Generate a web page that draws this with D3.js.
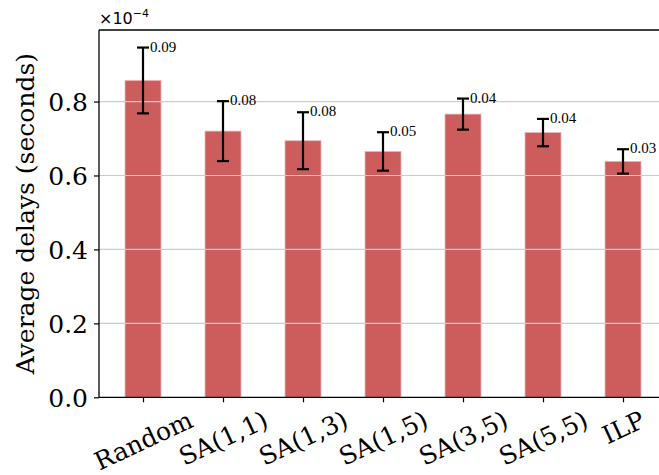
<!DOCTYPE html>
<html>
<head>
<meta charset="utf-8">
<script src="https://cdn.jsdelivr.net/npm/d3@7"></script>
<style>
  body { margin: 0; background: #fff; }
  svg { display: block; }
</style>
</head>
<body>
<svg id="chart" width="659" height="475"></svg>
<script>
const methods = ["Random", "SA(1,1)", "SA(1,3)", "SA(1,5)", "SA(3,5)", "SA(5,5)", "ILP"];
const avgDelays = [0.857, 0.720, 0.694, 0.665, 0.766, 0.716, 0.638];
const errors = [0.089, 0.081, 0.077, 0.052, 0.042, 0.037, 0.033];
const errorLabels = ["0.09", "0.08", "0.08", "0.05", "0.04", "0.04", "0.03"];
const yTicks = [0.0, 0.2, 0.4, 0.6, 0.8];

const plotLeft = 99, plotTop = 30, plotBottom = 397.3;
const step = 80;
const plotRight = plotLeft + step * (methods.length - 1) + 2 * 0.55 * step;

const svg = d3.select("#chart");

const xScale = d3.scalePoint()
  .domain(methods)
  .range([plotLeft + 0.55 * step, plotRight - 0.55 * step]);

const yScale = d3.scaleLinear()
  .domain([0, 0.9935])
  .range([plotBottom, plotTop]);

const barWidth = 36;

// bars
svg.append("g")
  .selectAll("rect")
  .data(methods)
  .enter()
  .append("rect")
  .attr("x", (m) => xScale(m) - barWidth / 2)
  .attr("width", barWidth)
  .attr("y", (m, i) => yScale(avgDelays[i]))
  .attr("height", (m, i) => plotBottom - yScale(avgDelays[i]))
  .attr("fill", "#cd5c5c")
  .attr("stroke", "#eab4b4")
  .attr("stroke-width", 0.8);

// grid over the bars
svg.append("g")
  .selectAll("line")
  .data(yTicks.filter((t) => t > 0))
  .enter()
  .append("line")
  .attr("x1", plotLeft)
  .attr("x2", plotRight)
  .attr("y1", (t) => yScale(t))
  .attr("y2", (t) => yScale(t))
  .attr("stroke", "#cccccc")
  .attr("stroke-width", 1.2);

// error bars
const errG = svg.append("g").attr("stroke", "#000").attr("stroke-width", 2.2);
methods.forEach((m, i) => {
  const cx = xScale(m);
  const y1 = yScale(avgDelays[i] + errors[i]);
  const y2 = yScale(avgDelays[i] - errors[i]);
  errG.append("line").attr("x1", cx).attr("x2", cx).attr("y1", y1).attr("y2", y2);
  errG.append("line").attr("x1", cx - 6).attr("x2", cx + 6).attr("y1", y1).attr("y2", y1);
  errG.append("line").attr("x1", cx - 6).attr("x2", cx + 6).attr("y1", y2).attr("y2", y2);
});

// error labels
svg.append("g")
  .selectAll("text")
  .data(methods)
  .enter()
  .append("text")
  .text((m, i) => errorLabels[i])
  .attr("x", (m) => xScale(m) + 7)
  .attr("y", (m, i) => yScale(avgDelays[i] + errors[i]) + 4)
  .attr("font-family", "Liberation Serif, serif")
  .attr("font-size", 15)
  .attr("fill", "#000");

// y axis
const yAxis = svg.append("g")
  .attr("transform", `translate(${plotLeft},0)`)
  .call(d3.axisLeft(yScale).tickValues(yTicks).tickFormat(d3.format(".1f")).tickSize(5).tickPadding(6));
yAxis.select(".domain").remove();
yAxis.selectAll(".tick line").attr("stroke-width", 1.2);
yAxis.selectAll(".tick text")
  .attr("font-family", "DejaVu Serif, serif")
  .attr("font-size", 25)
  .attr("dy", "0.36em")
  .attr("fill", "#000");

// x axis, labels rotated 25deg, top of rotated box aligned like matplotlib
const xFont = 25, xAngle = 25, labelTop = 8;
const xAxis = svg.append("g")
  .attr("transform", `translate(0,${plotBottom})`)
  .call(d3.axisBottom(xScale).tickSize(5).tickPadding(0));
xAxis.select(".domain").remove();
xAxis.selectAll(".tick line").attr("stroke-width", 1.2);
xAxis.selectAll(".tick text")
  .attr("font-family", "DejaVu Serif, serif")
  .attr("font-size", xFont)
  .attr("fill", "#000")
  .attr("text-anchor", "middle")
  .attr("dy", null)
  .attr("y", 0)
  .attr("dominant-baseline", "central")
  .attr("transform", function () {
    const w = this.getComputedTextLength();
    const h = xFont * 1.164;
    const a = xAngle * Math.PI / 180;
    const boxH = w * Math.sin(a) + h * Math.cos(a);
    return `translate(0,${labelTop + boxH / 2}) rotate(${-xAngle})`;
  });

// spines
svg.append("line").attr("x1", plotLeft).attr("x2", plotLeft).attr("y1", plotTop).attr("y2", plotBottom)
  .attr("stroke", "#000").attr("stroke-width", 1.3);
svg.append("line").attr("x1", plotLeft).attr("x2", plotRight).attr("y1", plotBottom).attr("y2", plotBottom)
  .attr("stroke", "#000").attr("stroke-width", 1.3);
svg.append("line").attr("x1", plotLeft).attr("x2", plotRight).attr("y1", plotTop).attr("y2", plotTop)
  .attr("stroke", "#000").attr("stroke-width", 1.3);
svg.append("line").attr("x1", plotRight).attr("x2", plotRight).attr("y1", plotTop).attr("y2", plotBottom)
  .attr("stroke", "#000").attr("stroke-width", 1.3);

// offset text
const off = svg.append("text")
  .attr("x", plotLeft)
  .attr("y", 24)
  .attr("font-family", "DejaVu Sans, sans-serif")
  .attr("font-size", 16)
  .attr("fill", "#000");
off.append("tspan").text("×10");
off.append("tspan").text("−4").attr("font-size", 11).attr("dy", -7);

// y label
svg.append("text")
  .attr("transform", `translate(34,${(plotTop + plotBottom) / 2}) rotate(-90)`)
  .attr("text-anchor", "middle")
  .attr("font-family", "DejaVu Serif, serif")
  .attr("font-size", 25)
  .attr("fill", "#000")
  .text("Average delays (seconds)");
</script>
</body>
</html>
